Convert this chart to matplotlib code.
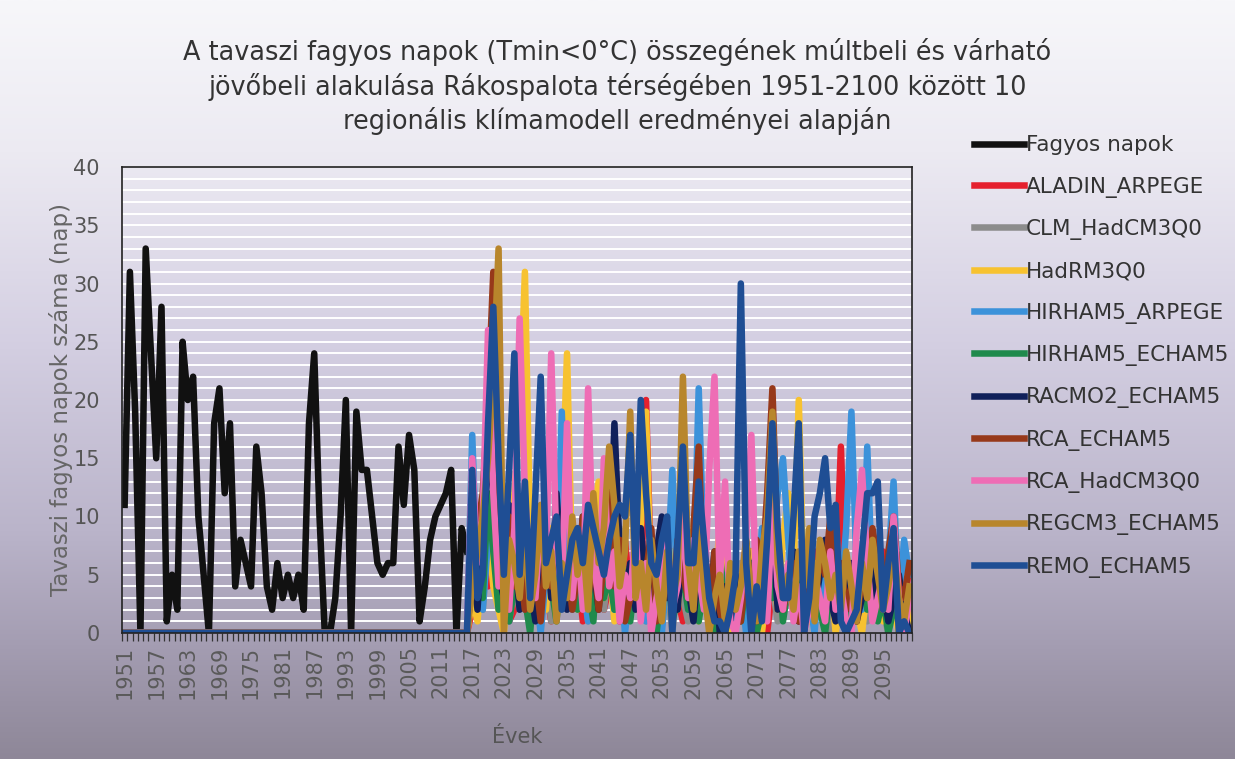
import matplotlib
matplotlib.use("Agg")
import matplotlib.pyplot as plt
import numpy as np

# categories
years = list(range(1951, 2101))
n_hist = 66  # 1951-2016 observed, models are 0 there

# observed spring frost days 1951-2016
fagyos = [11, 31, 19, 0, 33, 24, 15, 28, 1, 5,
          2, 25, 20, 22, 10, 5, 0, 18, 21, 12,
          18, 4, 8, 6, 4, 16, 12, 4, 2, 6,
          3, 5, 3, 5, 2, 18, 24, 10, 0, 0,
          3, 10, 20, 0, 19, 14, 14, 10, 6, 5,
          6, 6, 16, 11, 17, 14, 1, 4, 8, 10,
          11, 12, 14, 0, 9, 7]

# model runs 2017-2100
aladin = [2, 5, 8, 4, 10, 3, 6, 1, 2, 5,
          3, 7, 2, 9, 4, 1, 6, 3, 8, 2,
          5, 1, 7, 3, 9, 2, 4, 6, 1, 8,
          3, 6, 2, 20, 4, 1, 5, 2, 7, 3,
          1, 4, 6, 2, 8, 3, 1, 5, 2, 4,
          6, 1, 3, 7, 2, 5, 0, 4, 8, 2,
          3, 6, 1, 4, 2, 7, 3, 5, 1, 4,
          16, 2, 5, 1, 3, 6, 2, 4, 7, 1,
          3, 5, 2, 6]
clm = [4, 6, 2, 9, 5, 3, 7, 1, 4, 2,
       6, 3, 8, 2, 5, 1, 4, 7, 2, 5,
       3, 7, 1, 5, 8, 2, 6, 3, 9, 4,
       2, 5, 7, 1, 3, 6, 2, 4, 0, 5,
       3, 1, 5, 7, 2, 4, 6, 1, 3, 0,
       2, 6, 3, 1, 5, 2, 7, 4, 1, 3,
       5, 2, 4, 6, 1, 3, 2, 5, 0, 4,
       1, 3, 6, 2, 4, 1, 3, 5, 2, 0,
       4, 1, 3, 2]
hadrm = [3, 1, 6, 9, 4, 2, 0, 5, 12, 18,
         31, 8, 3, 6, 2, 9, 4, 11, 24, 5,
         2, 7, 4, 10, 13, 3, 6, 1, 8, 4,
         5, 2, 9, 19, 3, 6, 1, 4, 7, 2,
         8, 3, 5, 1, 6, 2, 4, 9, 3, 0,
         2, 5, 1, 7, 3, 0, 4, 6, 2, 8,
         12, 5, 20, 3, 1, 6, 4, 2, 5, 0,
         3, 1, 5, 2, 0, 4, 2, 6, 1, 3,
         2, 0, 4, 1]
hirham_arp = [17, 4, 2, 8, 12, 3, 6, 1, 5, 9,
              2, 7, 4, 0, 5, 8, 3, 19, 6, 2,
              9, 4, 1, 7, 3, 5, 10, 2, 6, 0,
              4, 8, 3, 1, 6, 2, 0, 5, 14, 3,
              7, 2, 4, 21, 6, 1, 3, 0, 5, 2,
              1, 4, 0, 6, 2, 9, 3, 7, 12, 15,
              8, 2, 5, 1, 3, 0, 6, 2, 4, 7,
              3, 9, 19, 5, 2, 16, 4, 8, 3, 6,
              13, 2, 8, 5]
hirham_ech = [5, 8, 3, 12, 7, 2, 6, 1, 4, 9,
              3, 0, 6, 2, 8, 4, 1, 7, 3, 5,
              2, 6, 4, 1, 8, 3, 5, 2, 7, 4,
              1, 5, 3, 6, 2, 0, 4, 7, 1, 3,
              5, 2, 6, 1, 4, 3, 0, 7, 2, 5,
              3, 1, 4, 6, 0, 2, 5, 3, 7, 1,
              4, 2, 6, 1, 3, 5, 2, 0, 4, 6,
              2, 5, 1, 3, 6, 2, 4, 1, 3, 0,
              2, 4, 1, 3]
racmo = [6, 2, 9, 14, 20, 5, 3, 11, 7, 2,
         8, 4, 1, 6, 9, 3, 12, 5, 2, 7,
         4, 10, 3, 6, 2, 8, 5, 18, 7, 3,
         6, 2, 9, 4, 1, 7, 10, 3, 5, 2,
         8, 4, 1, 6, 3, 2, 7, 0, 4, 1,
         5, 2, 8, 3, 1, 6, 4, 9, 2, 5,
         3, 7, 1, 4, 6, 2, 5, 8, 3, 1,
         4, 2, 6, 1, 3, 5, 2, 7, 4, 1,
         3, 5, 2, 0]
rca_ech = [5, 9, 12, 20, 31, 8, 3, 10, 4, 6,
           2, 8, 5, 1, 7, 4, 9, 3, 6, 2,
           5, 10, 3, 7, 2, 6, 12, 4, 8, 1,
           3, 7, 2, 5, 9, 1, 4, 6, 2, 8,
           5, 3, 9, 16, 4, 1, 7, 2, 0, 5,
           3, 1, 6, 2, 8, 5, 12, 21, 7, 2,
           4, 6, 1, 3, 8, 2, 7, 5, 10, 3,
           6, 2, 4, 1, 5, 3, 9, 6, 2, 7,
           10, 4, 3, 6]
rca_had = [15, 6, 10, 26, 12, 4, 8, 2, 9, 27,
           12, 5, 3, 10, 6, 24, 7, 4, 18, 3,
           8, 2, 21, 6, 3, 15, 4, 7, 1, 5,
           3, 9, 1, 6, 0, 3, 5, 8, 2, 4,
           11, 3, 8, 5, 2, 14, 22, 4, 13, 1,
           0, 3, 8, 17, 2, 6, 1, 11, 4, 2,
           6, 1, 4, 0, 2, 5, 3, 1, 7, 2,
           4, 1, 0, 9, 14, 6, 1, 3, 5, 2,
           10, 3, 0, 3]
regcm = [4, 7, 10, 15, 22, 33, 0, 8, 6, 3,
         9, 2, 5, 11, 4, 7, 1, 6, 3, 10,
         5, 8, 2, 12, 6, 9, 16, 11, 4, 7,
         19, 3, 6, 2, 8, 4, 1, 7, 3, 5,
         22, 6, 2, 9, 4, 0, 3, 5, 1, 6,
         2, 4, 8, 3, 1, 7, 10, 19, 6, 3,
         5, 2, 7, 4, 9, 1, 8, 6, 3, 5,
         2, 7, 4, 1, 6, 3, 8, 5, 2, 4,
         7, 3, 1, 4]
remo = [14, 3, 5, 18, 28, 15, 5, 14, 24, 5,
        13, 3, 12, 22, 6, 8, 10, 2, 5, 8,
        9, 6, 11, 9, 7, 5, 8, 10, 11, 10,
        17, 6, 20, 12, 6, 5, 8, 10, 0, 8,
        16, 6, 6, 13, 8, 3, 1, 1, 0, 2,
        5, 30, 6, 0, 4, 1, 8, 18, 9, 3,
        3, 10, 18, 0, 3, 10, 12, 15, 9, 11,
        1, 0, 1, 2, 7, 12, 12, 13, 2, 6,
        9, 0, 1, 0]

models = [
    ("ALADIN_ARPEGE", aladin, "#e5202e"),
    ("CLM_HadCM3Q0", clm, "#8c8c8c"),
    ("HadRM3Q0", hadrm, "#f7c230"),
    ("HIRHAM5_ARPEGE", hirham_arp, "#3c92da"),
    ("HIRHAM5_ECHAM5", hirham_ech, "#1f8a4c"),
    ("RACMO2_ECHAM5", racmo, "#10205a"),
    ("RCA_ECHAM5", rca_ech, "#97391a"),
    ("RCA_HadCM3Q0", rca_had, "#ee6db5"),
    ("REGCM3_ECHAM5", regcm, "#b8862c"),
    ("REMO_ECHAM5", remo, "#1f4e94"),
]

W, H = 1235, 759
fig = plt.figure(figsize=(W / 100, H / 100), dpi=100)

# background gradient over whole figure
bg = fig.add_axes([0, 0, 1, 1], zorder=-10)
stops_y = [0.0, 0.2, 0.45, 0.7, 0.85, 1.0]
stops_c = np.array([[247, 247, 250], [236, 234, 242], [212, 207, 226],
                    [186, 180, 202], [164, 157, 178], [142, 135, 152]]) / 255.0
yy = np.linspace(0, 1, 400)
grad = np.stack([np.interp(yy, stops_y, stops_c[:, k]) for k in range(3)], axis=-1)
bg.imshow(grad[:, None, :], aspect="auto", extent=[0, 1, 0, 1], origin="upper")
bg.axis("off")

ax = fig.add_axes([122 / W, 1 - 633 / H, (912 - 122) / W, (633 - 167) / H])
ax.patch.set_alpha(0)

x = np.arange(len(years))
lw = 4.7
obs = np.array(fagyos + [np.nan] * (len(years) - n_hist), dtype=float)
handles = []
h, = ax.plot(x, obs, color="#111111", lw=lw, solid_joinstyle="round", label="Fagyos napok")
handles.append(h)
for name, vals, col in models:
    y = np.array([0] * n_hist + vals, dtype=float)
    h, = ax.plot(x, y, color=col, lw=lw, solid_joinstyle="round", label=name)
    handles.append(h)

ax.set_xlim(-0.5, len(years) - 0.5)
ax.set_ylim(0, 40)
ax.set_yticks(range(0, 41, 5))
for g in range(1, 40):
    ax.axhline(g, color="white", lw=1.4, zorder=0)

lab_pos = list(range(0, len(years), 6))
ax.set_xticks(lab_pos)
ax.set_xticklabels([str(years[i]) for i in lab_pos], rotation=90)
ax.set_xticks(np.arange(-0.5, len(years), 1), minor=True)
ax.tick_params(axis="x", which="major", length=0, pad=9, labelsize=15, labelcolor="#5a5a5a")
ax.tick_params(axis="x", which="minor", length=6, direction="out", color="#333333", width=0.9)
ax.tick_params(axis="y", length=0, pad=16, labelsize=15, labelcolor="#555555")
for s in ax.spines.values():
    s.set_color("#222222")
    s.set_linewidth(1.2)

ax.set_ylabel("Tavaszi fagyos napok száma (nap)", fontsize=16.5, color="#666666", labelpad=0)
ax.set_xlabel("Évek", fontsize=15, color="#555555", labelpad=20)

fig.text(0.5, 1 - 38 / H,
         "A tavaszi fagyos napok (Tmin<0°C) összegének múltbeli és várható\n"
         "jövőbeli alakulása Rákospalota térségében 1951-2100 között 10\n"
         "regionális klímamodell eredményei alapján",
         ha="center", va="top", fontsize=18.4, color="#333333", linespacing=1.3)

fig.legend(handles=handles, loc="upper left", bbox_to_anchor=(955 / W, 1 - 116 / H),
           frameon=False, fontsize=15.5, handlelength=2.3, handletextpad=0.1,
           labelspacing=0.99, labelcolor="#333333")

fig.savefig("out.png", dpi=100)
